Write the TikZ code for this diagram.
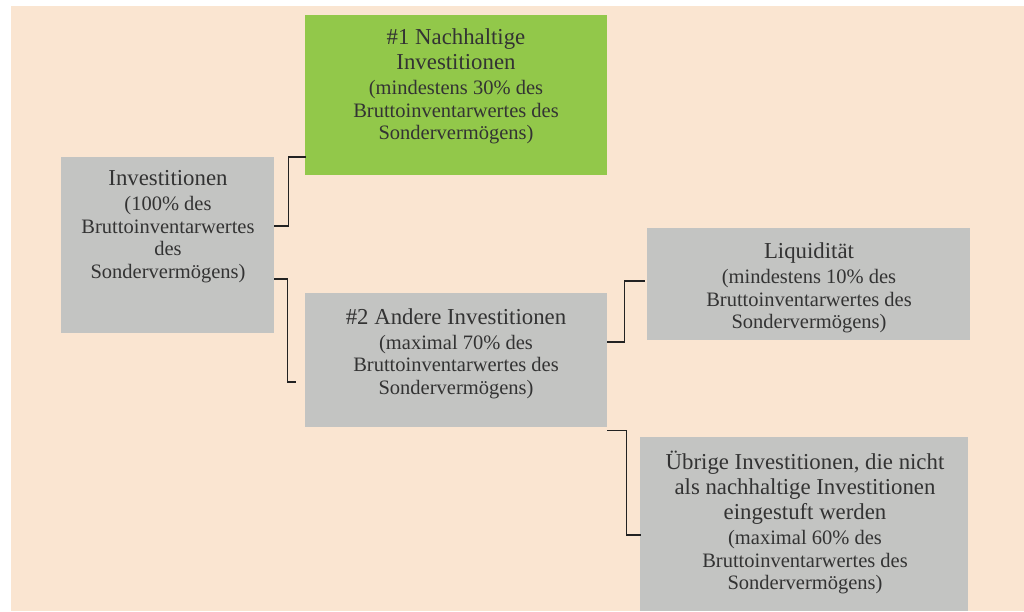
\documentclass[tikz,border=0pt]{standalone}
\usepackage{fontspec}
\setmainfont{Liberation Serif}
\usetikzlibrary{calc}
\definecolor{peach}{HTML}{FAE5D1}
\definecolor{boxgray}{HTML}{C3C4C2}
\definecolor{boxgreen}{HTML}{92C84A}
\definecolor{txt}{HTML}{333333}
\definecolor{conncol}{HTML}{222222}
\newcommand{\tfont}{\fontsize{22.8pt}{25pt}\selectfont}
\newcommand{\bfont}{\fontsize{20.5pt}{22.5pt}\selectfont}
\tikzset{
  boxnode/.style={fill=boxgray, draw=none, inner sep=0pt, anchor=north west},
  greennode/.style={boxnode, fill=boxgreen},
  label/.style={text=txt, align=center, inner sep=0pt, anchor=center, font=\bfont},
  conn/.style={draw=conncol, line width=1.8pt, line cap=rect}
}
\begin{document}
\begin{tikzpicture}[x=1pt, y=-1pt]
\useasboundingbox (0,0) rectangle (1024,611);
\fill[white] (0,0) rectangle (1024,611);
\fill[peach] (11,6) rectangle (1024,611);

% boxes
\node[boxnode, minimum width=213pt, minimum height=176pt] (inv) at (61,157) {};
\node[greennode, minimum width=302pt, minimum height=160pt] (green) at (305,15) {};
\node[boxnode, minimum width=302pt, minimum height=134pt] (two) at (305,293) {};
\node[boxnode, minimum width=323pt, minimum height=112pt] (liq) at (647,228) {};
\node[boxnode, minimum width=328pt, minimum height=174pt] (ueb) at (640,437) {};

% texts
\node[label] (invtext) at (168,226.5) {\tfont Investitionen\\[2.5pt](100\% des\\Bruttoinventarwertes\\des\\Sondervermögens)};
\node[label] (greentext) at (456,86.5) {\tfont \#1 Nachhaltige\\[2.5pt]\tfont Investitionen\\[2.5pt](mindestens 30\% des\\Bruttoinventarwertes des\\Sondervermögens)};
\node[label] (twotext) at (456,353.5) {\tfont \#2 Andere Investitionen\\[2.5pt](maximal 70\% des\\Bruttoinventarwertes des\\Sondervermögens)};
\node[label] (liqtext) at (809,288) {\tfont Liquidität\\[2.5pt](mindestens 10\% des\\Bruttoinventarwertes des\\Sondervermögens)};
\node[label] (uebtext) at (805,522.5) {\tfont Übrige Investitionen, die nicht\\[2.5pt]\tfont als nachhaltige Investitionen\\[2.5pt]\tfont eingestuft werden\\[2.5pt](maximal 60\% des\\Bruttoinventarwertes des\\Sondervermögens)};

% connectors
\draw[conn] ($(inv.north east)+(0,69)$) -- ++(14,0) |- ($(green.north west)+(0,142)$);
\draw[conn, shorten >=10pt] ($(inv.north east)+(0,122)$) -- ++(13,0) |- ($(two.north west)+(0,89)$);
\draw[conn, shorten >=3pt] ($(two.north east)+(0,49)$) -- ++(17,0) |- ($(liq.north west)+(0,53)$);
\draw[conn] ($(two.south east)+(0,3)$) -- ++(19,0) |- ($(ueb.north west)+(0,98)$);
\end{tikzpicture}
\end{document}
